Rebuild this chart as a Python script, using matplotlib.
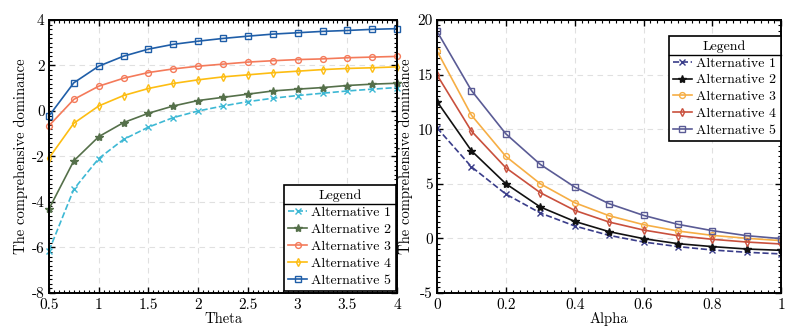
import matplotlib
matplotlib.use("Agg")
import matplotlib.pyplot as plt
from matplotlib.ticker import MultipleLocator
from matplotlib.lines import Line2D

plt.rcParams["font.family"] = ["cmr10", "DejaVu Serif"]
plt.rcParams["axes.unicode_minus"] = False
plt.rcParams["font.size"] = 10

# left panel: theta sensitivity
theta = [0.5, 0.75, 1.0, 1.25, 1.5, 1.75, 2.0, 2.25, 2.5, 2.75, 3.0, 3.25, 3.5, 3.75, 4.0]
theta_alt1 = [-6.15, -3.44, -2.09, -1.25, -0.71, -0.29, 0.0, 0.22, 0.41, 0.56, 0.68, 0.78, 0.88, 0.96, 1.03]
theta_alt2 = [-4.31, -2.19, -1.13, -0.51, -0.10, 0.22, 0.46, 0.60, 0.74, 0.88, 0.96, 1.03, 1.12, 1.18, 1.22]
theta_alt3 = [-0.65, 0.51, 1.09, 1.44, 1.69, 1.85, 1.97, 2.06, 2.15, 2.21, 2.26, 2.29, 2.34, 2.37, 2.40]
theta_alt4 = [-2.07, -0.54, 0.22, 0.68, 0.99, 1.21, 1.37, 1.50, 1.59, 1.68, 1.75, 1.82, 1.87, 1.90, 1.94]
theta_alt5 = [-0.22, 1.24, 1.97, 2.41, 2.72, 2.93, 3.07, 3.19, 3.29, 3.38, 3.44, 3.50, 3.54, 3.59, 3.62]

# right panel: alpha sensitivity
alpha = [0.0, 0.1, 0.2, 0.3, 0.4, 0.5, 0.6, 0.7, 0.8, 0.9, 1.0]
alpha_alt1 = [10.12, 6.55, 4.05, 2.32, 1.13, 0.27, -0.34, -0.76, -1.07, -1.28, -1.43]
alpha_alt2 = [12.53, 8.02, 5.00, 2.87, 1.55, 0.61, -0.03, -0.49, -0.76, -0.98, -1.10]
alpha_alt3 = [17.16, 11.28, 7.50, 5.00, 3.26, 2.07, 1.25, 0.67, 0.27, 0.00, -0.21]
alpha_alt4 = [14.97, 9.82, 6.46, 4.18, 2.56, 1.49, 0.76, 0.24, -0.09, -0.34, -0.52]
alpha_alt5 = [18.96, 13.54, 9.57, 6.77, 4.70, 3.17, 2.10, 1.28, 0.70, 0.24, -0.03]

labels = ["Alternative 1", "Alternative 2", "Alternative 3", "Alternative 4", "Alternative 5"]
markers = ["x", "*", "o", "d", "s"]
styles = ["--", "-", "-", "-", "-"]
left_colors = ["#3db8d4", "#55704a", "#f47a5a", "#fdbd12", "#1f5ea8"]
right_colors = ["#3a3d8a", "#111111", "#f6ae45", "#c9503d", "#5a5b95"]


def draw_panel(ax, x, series, colors, xlabel, clip):
    for y, lab, m, ls, c in zip(series, labels, markers, styles, colors):
        filled = m in ("x", "*")
        ax.plot(x, y, linestyle=ls, marker=m, color=c, label=lab, linewidth=1.2,
                markersize=6 if m == "*" else 4.2,
                markerfacecolor=c if filled else "none", markeredgewidth=1.0,
                clip_on=clip)
    ax.set_xlabel(xlabel, labelpad=0, fontsize=10.5)
    ax.set_ylabel("The comprehensive dominance", labelpad=3, fontsize=10.5)
    ax.grid(True, linestyle=(0, (5, 4)), color="#e0e0e0", linewidth=0.8)
    ax.tick_params(which="both", direction="in", top=True, right=True, labelsize=11)
    ax.tick_params(axis="x", pad=4)
    ax.tick_params(axis="y", pad=3)
    ax.tick_params(which="major", length=4, width=1)
    ax.tick_params(which="minor", length=2.5, width=0.8)
    for s in ax.spines.values():
        s.set_linewidth(1.4)


fig = plt.figure(figsize=(7.86, 3.28), dpi=100)
ax1 = fig.add_axes([0.0623, 0.107, 0.443, 0.832])
ax2 = fig.add_axes([0.556, 0.107, 0.438, 0.832])

draw_panel(ax1, theta, [theta_alt1, theta_alt2, theta_alt3, theta_alt4, theta_alt5],
           left_colors, "Theta", False)
ax1.set_xlim(0.5, 4)
ax1.set_ylim(-8, 4)
ax1.xaxis.set_minor_locator(MultipleLocator(0.05))
ax1.yaxis.set_major_locator(MultipleLocator(2))
ax1.yaxis.set_minor_locator(MultipleLocator(0.2))
ax1.set_xticks([0.5, 1, 1.5, 2, 2.5, 3, 3.5, 4], ["0.5", "1", "1.5", "2", "2.5", "3", "3.5", "4"])

draw_panel(ax2, alpha, [alpha_alt1, alpha_alt2, alpha_alt3, alpha_alt4, alpha_alt5],
           right_colors, "Alpha", True)
ax2.set_xlim(0, 1)
ax2.set_ylim(-5, 20)
ax2.xaxis.set_minor_locator(MultipleLocator(0.02))
ax2.yaxis.set_major_locator(MultipleLocator(5))
ax2.yaxis.set_minor_locator(MultipleLocator(0.5))
ax2.set_xticks([0, 0.2, 0.4, 0.6, 0.8, 1], ["0", "0.2", "0.4", "0.6", "0.8", "1"])

leg_kw = dict(title="Legend", fontsize=10, title_fontsize=10, fancybox=False,
              edgecolor="black", framealpha=1, borderpad=0.3, labelspacing=0.3,
              handlelength=1.4, handletextpad=0.3, borderaxespad=0)
leg1 = ax1.legend(loc="lower right", bbox_to_anchor=(0.996, 0.008), **leg_kw)
leg2 = ax2.legend(loc="upper right", bbox_to_anchor=(0.998, 0.942), **leg_kw)
legs = [leg1, leg2]
for leg in legs:
    leg.get_frame().set_linewidth(1.2)

# separator line under each legend title
fig.canvas.draw()
inv = fig.transFigure.inverted()
for leg in legs:
    fb = leg.get_frame().get_window_extent()
    tb = leg.get_title().get_window_extent()
    yline = tb.y0 - 2
    (x0, y0) = inv.transform((fb.x0, yline))
    (x1, _) = inv.transform((fb.x1, yline))
    fig.add_artist(Line2D([x0, x1], [y0, y0], color="black", linewidth=1.0,
                          transform=fig.transFigure, zorder=10))

fig.savefig("out.png", dpi=100)
